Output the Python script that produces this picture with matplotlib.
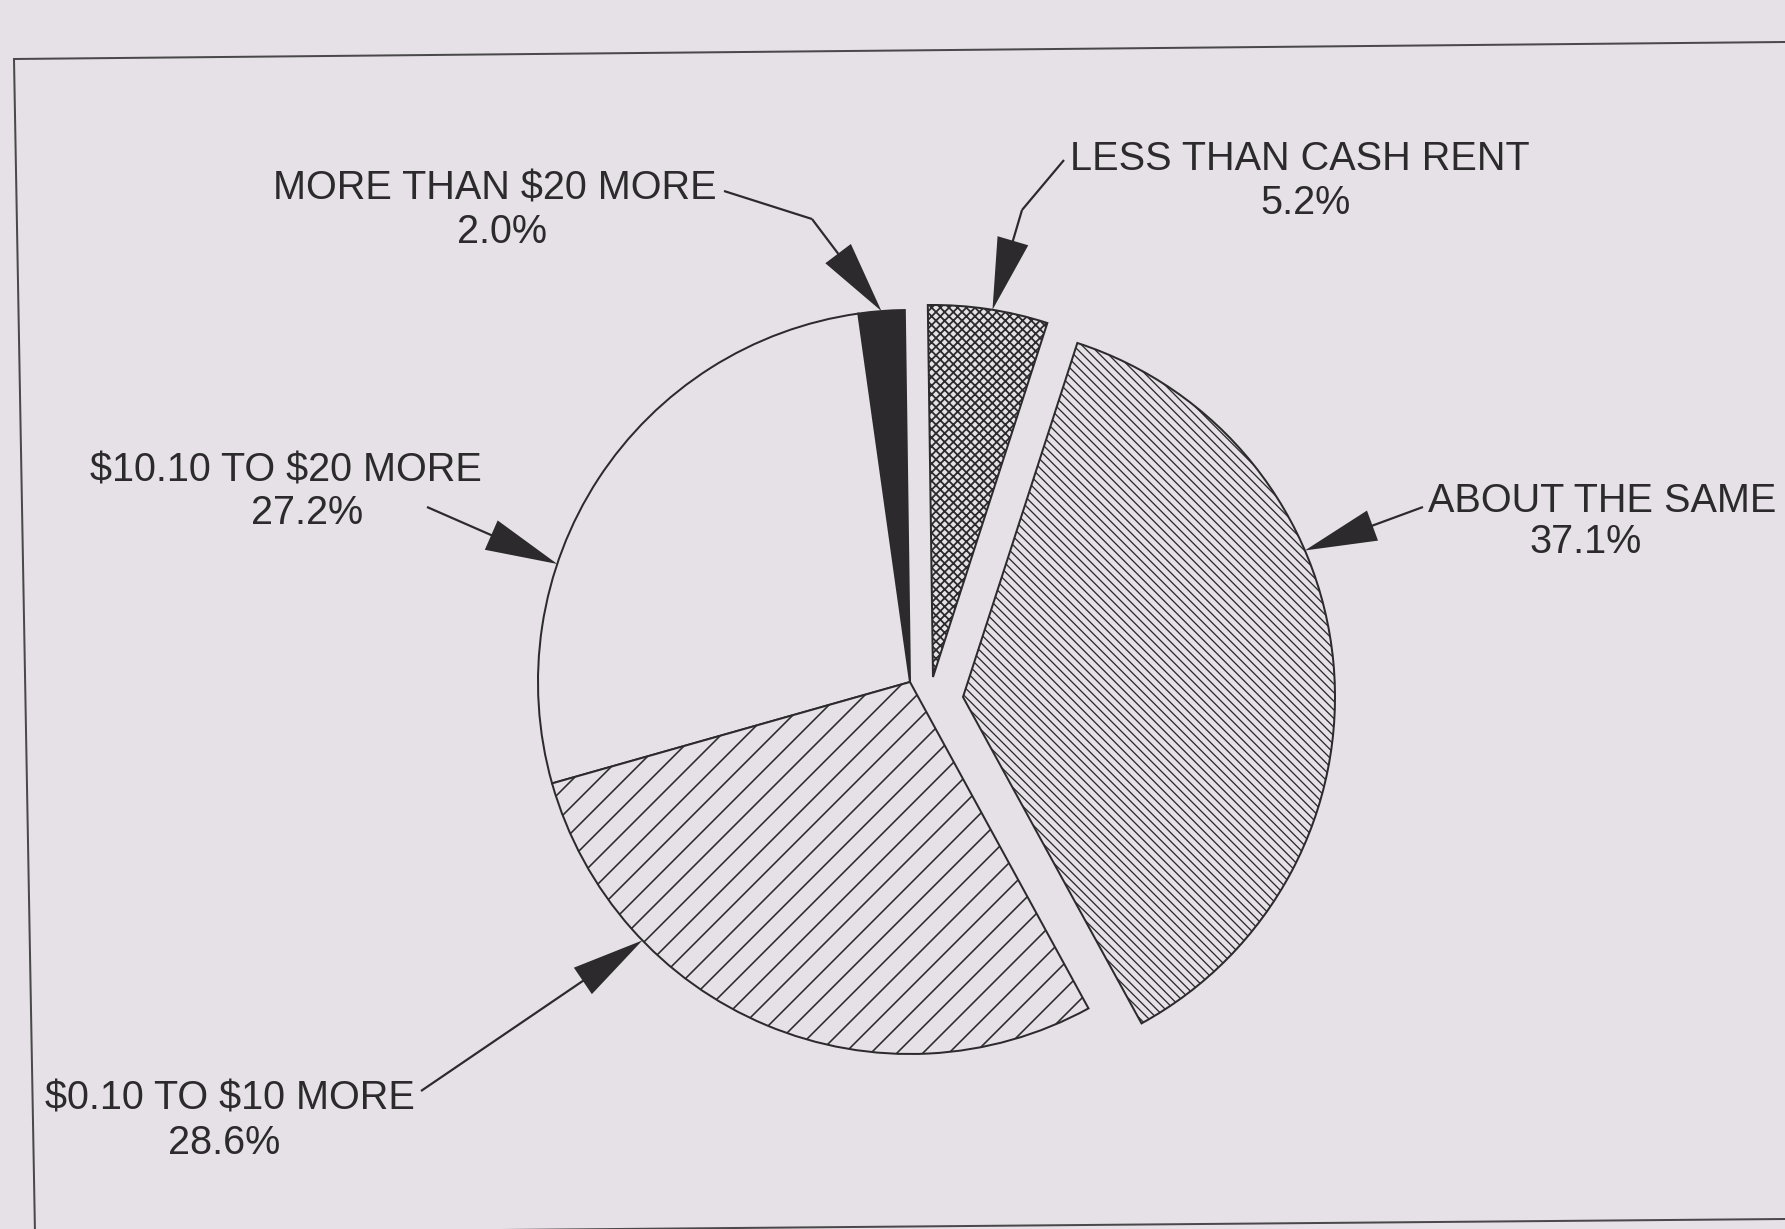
"""
Share of farms by how the cash-equivalent of a share lease compares with cash rent.
Exploded pie with hatched wedges and arrow call-outs, drawn on a pixel grid.
"""

import numpy as np
import matplotlib
matplotlib.use('Agg')
import matplotlib.pyplot as plt

# ──────────────────────────────────────────────
# Data
# ──────────────────────────────────────────────
categories = ['MORE THAN $20 MORE', '$10.10 TO $20 MORE', '$0.10 TO $10 MORE',
              'ABOUT THE SAME', 'LESS THAN CASH RENT']
shares = [2.0, 27.2, 28.6, 37.1, 5.2]

# ──────────────────────────────────────────────
# Layout / style (axes units are pixels, y up)
# ──────────────────────────────────────────────
W, H = 1785, 1229
DPI = 78            # hatch spacing scales with dpi, this gives the fine hatching
PT = 72 / DPI       # points per pixel
BG = '#e5e1e6'
INK = '#2c2a2d'
FS = 39.6 * PT

PIE_CENTER = (910, 547)
R = 372
START = 90.8

faces = [INK, BG, BG, BG, BG]
hatches = ['', '', '/', '\\\\\\', 'xxx']
hatch_lw = [1.5, 1.5, 1.6, 1.3, 1.8]   # pixels
shifts = [(0, 0), (0, 0), (0, 0), (53, -15), (23, 5)]

name_xy = [(495, 1029), (286, 748), (230, 120), (1602, 717), (1300, 1059)]
pct_xy = [(502, 986), (307, 705), (224, 75), (1586, 676), (1305, 1015)]

# leader points from the label to where the arrow starts, then angle of the tip
leaders = [[(724, 1038), (812, 1010)],
           [(427, 722)],
           [(421, 138)],
           [(1423, 722)],
           [(1064, 1069), (1022, 1019)]]
tip_angle = [94.4, 161.5, 224.0, 23.2, 80.8]

plt.rcParams['font.family'] = ['Liberation Sans', 'DejaVu Sans']
plt.rcParams['text.parse_math'] = False
plt.rcParams['hatch.color'] = INK
plt.rcParams['hatch.linewidth'] = 1.5 * PT

fig = plt.figure(figsize=(W / DPI, H / DPI), dpi=DPI, facecolor=BG)
ax = fig.add_axes([0, 0, 1, 1])
ax.set_facecolor(BG)

wedges, _ = ax.pie(shares, startangle=START, radius=R, center=PIE_CENTER,
                   counterclock=True,
                   wedgeprops=dict(linewidth=2.0 * PT, edgecolor=INK))

centers = []
for i, w in enumerate(wedges):
    w.set_facecolor(faces[i])
    w.set_hatch(hatches[i])
    if hasattr(w, 'set_hatch_linewidth'):
        w.set_hatch_linewidth(hatch_lw[i] * PT)
    c = (PIE_CENTER[0] + shifts[i][0], PIE_CENTER[1] + shifts[i][1])
    w.set_center(c)
    centers.append(c)

# labels and call-out arrows
for i, name in enumerate(categories):
    ax.text(*name_xy[i], name, ha='center', va='baseline', fontsize=FS, color=INK)
    ax.text(*pct_xy[i], f'{shares[i]:.1f}%', ha='center', va='baseline',
            fontsize=FS, color=INK)

    a = np.radians(tip_angle[i])
    tx = centers[i][0] + R * np.cos(a)
    ty = centers[i][1] + R * np.sin(a)
    pts = leaders[i]
    if len(pts) > 1:
        ax.plot([p[0] for p in pts], [p[1] for p in pts], color=INK,
                lw=2.2 * PT, solid_capstyle='butt', zorder=3)
    x0, y0 = pts[-1]
    ax.arrow(x0, y0, tx - x0, ty - y0, width=2.2, head_width=32, head_length=72,
             length_includes_head=True, fc=INK, ec='none', zorder=4)

# page frame
frame = dict(color='#4a484b', lw=2.0 * PT)
ax.plot([14, W], [1170, 1187], **frame)
ax.plot([14, 35], [1170, -5], **frame)
ax.plot([35, W], [-5, 10], **frame)

ax.set_xlim(0, W)
ax.set_ylim(0, H)
ax.set_aspect('equal')
ax.axis('off')

fig.savefig('out.png', dpi=DPI, facecolor=BG)
